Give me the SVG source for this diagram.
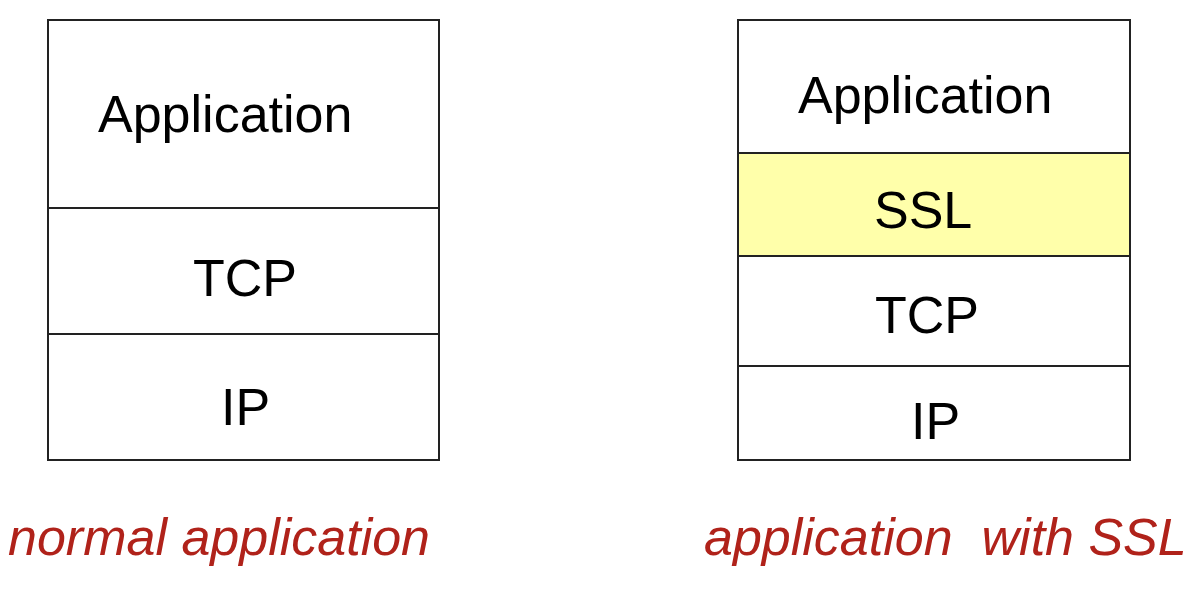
<svg xmlns="http://www.w3.org/2000/svg" width="1204" height="590" viewBox="0 0 1204 590">
<style>
.box{fill:#ffffff;stroke:#222222;stroke-width:2}
.ssl{fill:#ffffaa;stroke:#222222;stroke-width:2}
.t{font-family:"Liberation Sans",Arial,sans-serif;font-size:52px;fill:#000000}
.cap{font-family:"Liberation Sans",Arial,sans-serif;font-size:52px;font-style:italic;fill:#b0221a}
</style>
<rect width="1204" height="590" fill="#ffffff"/>
<g id="normal-stack">
  <g id="n-app"><rect class="box" x="48" y="20" width="391" height="188"/><text class="t" x="98" y="132">Application</text></g>
  <g id="n-tcp"><rect class="box" x="48" y="208" width="391" height="126"/><text class="t" x="193" y="296">TCP</text></g>
  <g id="n-ip"><rect class="box" x="48" y="334" width="391" height="126"/><text class="t" x="221" y="425">IP</text></g>
</g>
<g id="ssl-stack">
  <g id="s-app"><rect class="box" x="738" y="20" width="392" height="133"/><text class="t" x="798" y="113">Application</text></g>
  <g id="s-ssl"><rect class="ssl" x="738" y="153" width="392" height="103"/><text class="t" x="874" y="228">SSL</text></g>
  <g id="s-tcp"><rect class="box" x="738" y="256" width="392" height="110"/><text class="t" x="875" y="333">TCP</text></g>
  <g id="s-ip"><rect class="box" x="738" y="366" width="392" height="94"/><text class="t" x="911" y="439">IP</text></g>
</g>
<g id="connectors"></g>
<text class="cap" x="8" y="555">normal application</text>
<text class="cap" x="704" y="555" xml:space="preserve">application  with SSL</text>
</svg>
